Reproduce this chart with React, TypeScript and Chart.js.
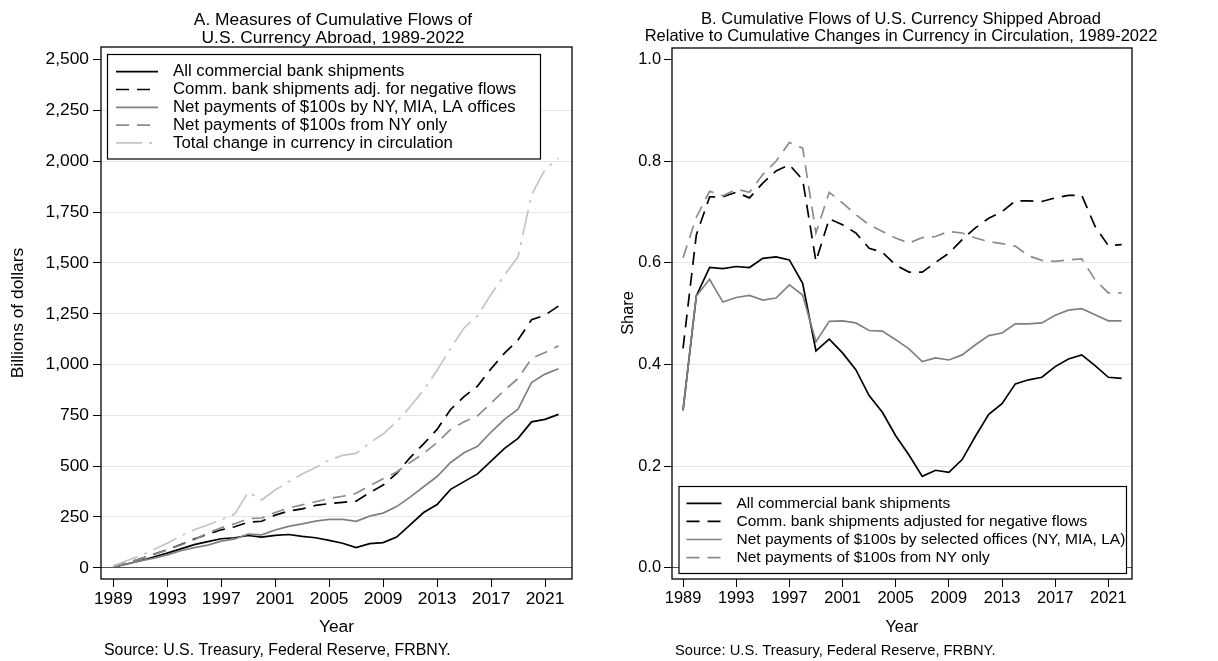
import React, { useEffect, useRef } from 'react';
import { Chart, registerables } from 'chart.js';

Chart.register(...registerables);

// ---------- data ----------
const years = [1989, 1990, 1991, 1992, 1993, 1994, 1995, 1996, 1997, 1998, 1999, 2000, 2001, 2002, 2003, 2004, 2005, 2006, 2007, 2008, 2009, 2010, 2011, 2012, 2013, 2014, 2015, 2016, 2017, 2018, 2019, 2020, 2021, 2022];
const yearTicks = [1989, 1993, 1997, 2001, 2005, 2009, 2013, 2017, 2021];

// Panel A: billions of dollars
const allShip = [3, 19, 35, 53, 72, 93, 114, 129, 143, 148, 159, 151, 160, 164, 155, 148, 135, 121, 100, 119, 124, 151, 211, 272, 311, 386, 424, 462, 525, 588, 637, 718, 730, 755];
const adjNeg = [4, 23, 44, 66, 89, 114, 142, 165, 187, 202, 224, 229, 259, 279, 290, 307, 316, 322, 328, 370, 407, 464, 542, 610, 681, 779, 842, 894, 979, 1056, 1121, 1220, 1243, 1288];
const net3 = [3, 19, 34, 47, 64, 84, 99, 112, 131, 142, 166, 162, 186, 204, 216, 230, 238, 238, 229, 254, 269, 301, 348, 399, 449, 518, 566, 598, 668, 730, 780, 911, 953, 979];
const nyOnly = [6, 24, 44, 66, 88, 112, 138, 172, 197, 217, 242, 245, 272, 294, 310, 325, 341, 352, 367, 404, 438, 471, 518, 563, 616, 681, 718, 748, 810, 874, 931, 1030, 1059, 1092];
const totalCirc = [10, 35, 60, 90, 121, 157, 187, 211, 236, 264, 372, 334, 383, 424, 462, 494, 530, 553, 563, 615, 658, 718, 792, 874, 972, 1079, 1180, 1240, 1345, 1440, 1530, 1835, 1960, 2015];
const ticksA = [0, 250, 500, 750, 1000, 1250, 1500, 1750, 2000, 2250, 2500];

// Panel B: shares
const shareAll = [0.31, 0.535, 0.591, 0.589, 0.593, 0.591, 0.609, 0.612, 0.606, 0.56, 0.427, 0.45, 0.423, 0.39, 0.339, 0.306, 0.26, 0.222, 0.18, 0.192, 0.188, 0.213, 0.259, 0.302, 0.323, 0.362, 0.37, 0.375, 0.396, 0.411, 0.419, 0.398, 0.375, 0.373];
const shareAdj = [0.432, 0.655, 0.73, 0.73, 0.739, 0.728, 0.757, 0.781, 0.793, 0.764, 0.603, 0.687, 0.675, 0.659, 0.629, 0.621, 0.596, 0.582, 0.582, 0.601, 0.619, 0.646, 0.669, 0.688, 0.701, 0.722, 0.722, 0.721, 0.728, 0.733, 0.733, 0.672, 0.634, 0.636];
const shareNet3 = [0.311, 0.535, 0.568, 0.523, 0.532, 0.536, 0.527, 0.531, 0.557, 0.537, 0.445, 0.485, 0.486, 0.482, 0.467, 0.466, 0.449, 0.431, 0.406, 0.413, 0.409, 0.419, 0.439, 0.457, 0.462, 0.48, 0.48, 0.482, 0.497, 0.507, 0.51, 0.498, 0.486, 0.486];
const shareNY = [0.61, 0.69, 0.741, 0.732, 0.745, 0.739, 0.774, 0.8, 0.837, 0.826, 0.659, 0.739, 0.718, 0.695, 0.675, 0.662, 0.649, 0.639, 0.65, 0.652, 0.662, 0.659, 0.649, 0.642, 0.638, 0.633, 0.614, 0.605, 0.603, 0.606, 0.608, 0.567, 0.541, 0.541];
const ticksB = [0, 0.2, 0.4, 0.6, 0.8, 1.0];

// ---------- styles ----------
const FONT = "'Liberation Sans', Arial, Helvetica, sans-serif";
const DASH = [13, 8];
const LONGDASH_DOT = [26, 7, 3, 7];

const toPoints = (vals: number[]) => years.map((yr, i) => ({ x: yr, y: vals[i] }));
const withCommas = (v: number) => String(v).replace(/\B(?=(\d{3})+(?!\d))/g, ',');

const framePlugin = {
  id: 'frame',
  afterDraw(chart: any) {
    const { ctx, chartArea: a } = chart;
    ctx.save();
    ctx.strokeStyle = '#000';
    ctx.lineWidth = 1.3;
    ctx.strokeRect(a.left, a.top, a.right - a.left, a.bottom - a.top);
    ctx.restore();
  },
};

const boxLegendPlugin = {
  id: 'boxLegend',
  afterDraw(chart: any, _args: any, opts: any) {
    const { ctx } = chart;
    const b = opts.box;
    ctx.save();
    ctx.fillStyle = '#fff';
    ctx.fillRect(b.x0, b.y0, b.x1 - b.x0, b.y1 - b.y0);
    ctx.strokeStyle = '#000';
    ctx.lineWidth = 1.2;
    ctx.strokeRect(b.x0, b.y0, b.x1 - b.x0, b.y1 - b.y0);
    ctx.font = `${opts.fontSize}px ${FONT}`;
    ctx.textBaseline = 'middle';
    ctx.textAlign = 'left';
    chart.data.datasets.forEach((ds: any, i: number) => {
      const y = opts.rowY + i * opts.rowStep;
      ctx.strokeStyle = ds.borderColor;
      ctx.lineWidth = ds.borderWidth;
      ctx.setLineDash(ds.borderDash || []);
      ctx.beginPath();
      ctx.moveTo(opts.sampleX0, y);
      ctx.lineTo(opts.sampleX1, y);
      ctx.stroke();
      ctx.setLineDash([]);
      ctx.fillStyle = '#000';
      ctx.fillText(ds.label, opts.textX, y);
    });
    ctx.restore();
  },
};

const textPlugin = {
  id: 'panelText',
  afterDraw(chart: any, _args: any, opts: any) {
    const { ctx } = chart;
    ctx.save();
    ctx.fillStyle = '#000';
    (opts.items || []).forEach((it: any) => {
      ctx.font = `${it.size}px ${FONT}`;
      ctx.textAlign = it.align || 'center';
      ctx.textBaseline = it.baseline || 'alphabetic';
      if (it.rotate) {
        ctx.save();
        ctx.translate(it.x, it.y);
        ctx.rotate(-Math.PI / 2);
        ctx.fillText(it.text, 0, 0);
        ctx.restore();
      } else {
        ctx.fillText(it.text, it.x, it.y);
      }
    });
    ctx.restore();
  },
};

function makeConfig(p: any): any {
  const tickFont = { family: FONT, size: p.tickSize };
  return {
    type: 'line',
    data: { datasets: p.datasets },
    plugins: [framePlugin, boxLegendPlugin, textPlugin],
    options: {
      responsive: false,
      maintainAspectRatio: false,
      animation: false,
      events: [],
      layout: { padding: p.padding },
      elements: { point: { radius: 0 }, line: { tension: 0 } },
      plugins: {
        legend: { display: false },
        tooltip: { enabled: false },
        title: { display: false },
        boxLegend: p.legend,
        panelText: { items: p.texts },
      },
      scales: {
        x: {
          type: 'linear',
          min: p.xMin,
          max: p.xMax,
          afterBuildTicks: (s: any) => {
            s.ticks = yearTicks.map((v) => ({ value: v }));
          },
          afterFit: (s: any) => {
            s.height = 40;
          },
          ticks: {
            callback: (v: any) => String(v),
            font: tickFont,
            color: '#000',
            padding: 2,
            maxRotation: 0,
            autoSkip: false,
          },
          grid: { drawOnChartArea: false, tickLength: 8, tickColor: '#000', tickWidth: 1 },
          border: { display: false },
        },
        y: {
          type: 'linear',
          min: p.yMin,
          max: p.yMax,
          afterBuildTicks: (s: any) => {
            s.ticks = p.yTicks.map((v: number) => ({ value: v }));
          },
          afterFit: (s: any) => {
            s.width = p.yAxisWidth;
          },
          ticks: {
            callback: p.yFormat,
            font: tickFont,
            color: '#000',
            padding: p.yPad,
            autoSkip: false,
          },
          grid: {
            color: (c: any) => {
              const v = c.tick ? c.tick.value : null;
              if (v === 0) return '#555555';
              if (v === p.yTicks[p.yTicks.length - 1]) return 'rgba(0,0,0,0)';
              return '#e6e6e6';
            },
            lineWidth: 1,
            tickLength: 8,
            tickColor: '#000',
            tickWidth: 1,
          },
          border: { display: false },
        },
      },
    },
  };
}

function line(label: string, vals: number[], color: string, dash: number[], order: number) {
  return {
    label,
    data: toPoints(vals),
    borderColor: color,
    backgroundColor: color,
    borderDash: dash,
    borderWidth: 1.7,
    fill: false,
    order,
  };
}

const App = () => {
  const refA = useRef<HTMLCanvasElement | null>(null);
  const refB = useRef<HTMLCanvasElement | null>(null);

  useEffect(() => {
    const cfgA = makeConfig({
      datasets: [
        line('All commercial bank shipments', allShip, '#000000', [], 5),
        line('Comm. bank shipments adj. for negative flows', adjNeg, '#000000', DASH, 4),
        line('Net payments of $100s by NY, MIA, LA offices', net3, '#808080', [], 3),
        line('Net payments of $100s from NY only', nyOnly, '#8c8c8c', DASH, 2),
        line('Total change in currency in circulation', totalCirc, '#c4c4c4', LONGDASH_DOT, 1),
      ],
      tickSize: 17.4,
      padding: { top: 47, left: 0, right: 28, bottom: 42 },
      xMin: 1988.09,
      xMax: 2023.0,
      yMin: -55,
      yMax: 2562,
      yTicks: ticksA,
      yFormat: (v: any) => withCommas(v),
      yAxisWidth: 101,
      yPad: 4,
      legend: {
        box: { x0: 107.5, y0: 54.5, x1: 540.5, y1: 159 },
        sampleX0: 116,
        sampleX1: 158,
        textX: 173,
        rowY: 71.7,
        rowStep: 17.8,
        fontSize: 16.8,
      },
      texts: [
        { text: 'A. Measures of Cumulative Flows of', x: 333, y: 25, size: 17.4 },
        { text: 'U.S. Currency Abroad, 1989-2022', x: 333, y: 43, size: 17.4 },
        { text: 'Year', x: 336.5, y: 632, size: 17.4 },
        { text: 'Billions of dollars', x: 18, y: 313, size: 17.4, rotate: true, baseline: 'middle' },
        { text: 'Source: U.S. Treasury, Federal Reserve, FRBNY.', x: 104, y: 655, size: 15.9, align: 'left' },
      ],
    });

    const cfgB = makeConfig({
      datasets: [
        line('All commercial bank shipments', shareAll, '#000000', [], 4),
        line('Comm. bank shipments adjusted for negative flows', shareAdj, '#000000', DASH, 3),
        line('Net payments of $100s by selected offices (NY, MIA, LA)', shareNet3, '#808080', [], 2),
        line('Net payments of $100s from NY only', shareNY, '#8c8c8c', DASH, 1),
      ],
      tickSize: 16.4,
      padding: { top: 48, left: 0, right: 86, bottom: 42 },
      xMin: 1988.17,
      xMax: 2022.78,
      yMin: -0.022,
      yMax: 1.023,
      yTicks: ticksB,
      yFormat: (v: any) => Number(v).toFixed(1),
      yAxisWidth: 72,
      yPad: 3,
      legend: {
        box: { x0: 79, y0: 486.5, x1: 526.5, y1: 573.5 },
        sampleX0: 86.5,
        sampleX1: 121.5,
        textX: 136.5,
        rowY: 503.3,
        rowStep: 18.1,
        fontSize: 15.5,
      },
      texts: [
        { text: 'B. Cumulative Flows of U.S. Currency Shipped Abroad', x: 301, y: 24, size: 16.5 },
        { text: 'Relative to Cumulative Changes in Currency in Circulation, 1989-2022', x: 301, y: 41, size: 16.5 },
        { text: 'Year', x: 302, y: 632, size: 16.4 },
        { text: 'Share', x: 28, y: 313, size: 16.4, rotate: true, baseline: 'middle' },
        { text: 'Source: U.S. Treasury, Federal Reserve, FRBNY.', x: 75, y: 655, size: 14.7, align: 'left' },
      ],
    });

    const chartA = new Chart(refA.current as HTMLCanvasElement, cfgA);
    const chartB = new Chart(refB.current as HTMLCanvasElement, cfgB);
    return () => {
      chartA.destroy();
      chartB.destroy();
    };
  }, []);

  return (
    <div style={{ position: 'absolute', left: 0, top: 0, width: 1218, height: 661, background: '#fff' }}>
      <canvas ref={refA} width={600} height={661} style={{ position: 'absolute', left: 0, top: 0, width: 600, height: 661 }} />
      <canvas ref={refB} width={618} height={661} style={{ position: 'absolute', left: 600, top: 0, width: 618, height: 661 }} />
    </div>
  );
};

export default App;
